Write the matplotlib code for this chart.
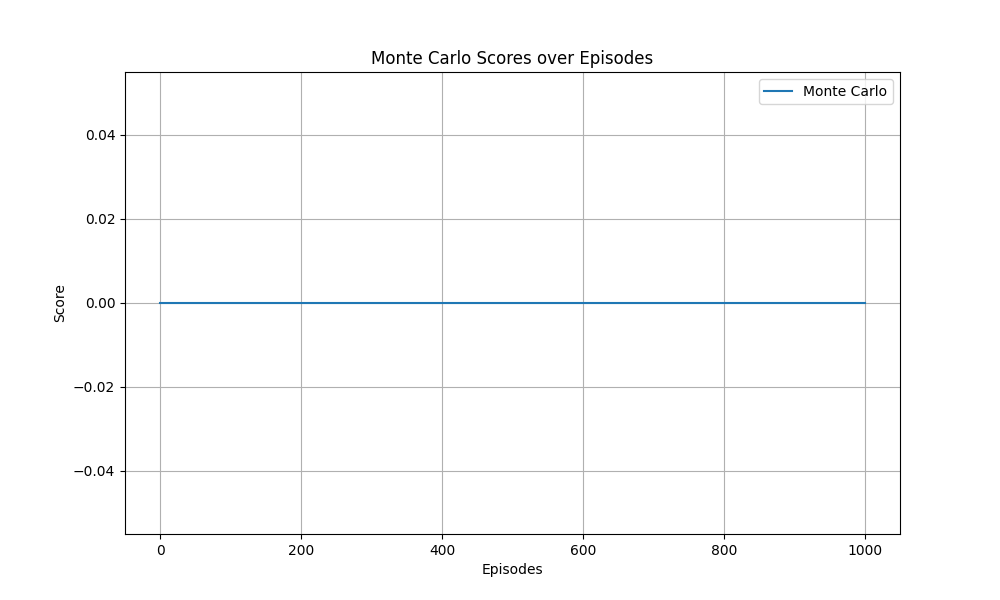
import matplotlib
matplotlib.use("Agg")
import matplotlib.pyplot as plt

episodes = list(range(1000))
scores = [0.0] * 1000

fig, ax = plt.subplots(figsize=(10, 6), dpi=100)
ax.plot(episodes, scores, label="Monte Carlo")
ax.set_title("Monte Carlo Scores over Episodes")
ax.set_xlabel("Episodes")
ax.set_ylabel("Score")
ax.grid(True)
ax.legend()
fig.savefig("out.png")
